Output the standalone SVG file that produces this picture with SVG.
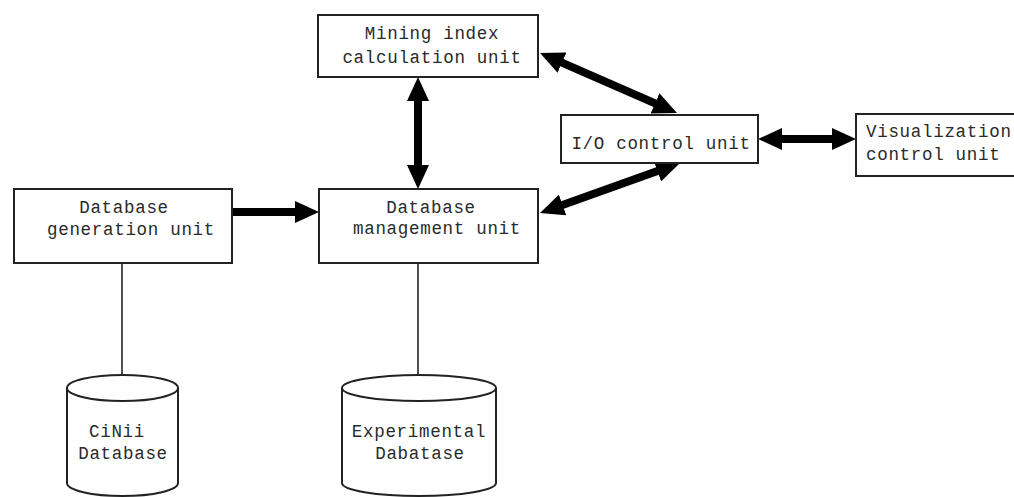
<svg xmlns="http://www.w3.org/2000/svg" width="1014" height="497" viewBox="0 0 1014 497">
<style>
.box{fill:#fff;stroke:#222;stroke-width:2}
.t{font-family:"Liberation Mono","Courier New",monospace;font-size:17.5px;letter-spacing:0.7px;fill:#2a2a2a;text-anchor:middle}
.ts{text-anchor:start}
.arr{stroke:#000;stroke-width:8;fill:none;marker-end:url(#head)}
.both{marker-start:url(#head)}
.thin{stroke:#222;stroke-width:1.6;fill:none}
.cyl{fill:#fff;stroke:#222;stroke-width:2}
</style>
<defs>
<marker id="head" viewBox="0 0 24 22" refX="12" refY="11" markerWidth="24" markerHeight="22" markerUnits="userSpaceOnUse" orient="auto-start-reverse">
<path d="M0,0 L24,11 L0,22 z" fill="#000"/>
</marker>
</defs>
<rect width="1014" height="497" fill="#fff"/>
<g id="connectors">
<line class="arr" x1="232" y1="212" x2="307" y2="212"/>
<line class="arr both" x1="418" y1="89" x2="418" y2="177"/>
<line class="arr both" x1="551" y1="57.8" x2="666" y2="108.2"/>
<line class="arr both" x1="551.3" y1="209" x2="668.7" y2="167"/>
<line class="arr both" x1="770" y1="139" x2="844" y2="139"/>
<line class="thin" x1="122" y1="263" x2="122" y2="375"/>
<line class="thin" x1="418" y1="263" x2="418" y2="375"/>
</g>
<g id="mining">
<rect class="box" x="318" y="15" width="220" height="62"/>
<text class="t" x="432" y="38.5">Mining index</text>
<text class="t" x="432" y="62.5">calculation unit</text>
</g>
<g id="io">
<rect class="box" x="561" y="115" width="197" height="48"/>
<text class="t" x="661" y="149">I/O control unit</text>
</g>
<g id="visualization">
<rect class="box" x="856" y="114" width="170" height="62"/>
<text class="t ts" x="866" y="137">Visualization</text>
<text class="t ts" x="866" y="160">control unit</text>
</g>
<g id="dbgen">
<rect class="box" x="14" y="189" width="218" height="74"/>
<text class="t" x="124" y="213">Database</text>
<text class="t" x="131" y="235">generation unit</text>
</g>
<g id="dbmgmt">
<rect class="box" x="319" y="189" width="219" height="74"/>
<text class="t" x="431" y="213">Database</text>
<text class="t" x="437" y="234">management unit</text>
</g>
<g id="cinii">
<path class="cyl" d="M67,388 L67,483 A55.5,13 0 0 0 178,483 L178,388"/>
<ellipse class="cyl" cx="122.5" cy="388" rx="55.5" ry="13"/>
<text class="t" x="117" y="437">CiNii</text>
<text class="t" x="123" y="459">Database</text>
</g>
<g id="experimental">
<path class="cyl" d="M342,388 L342,483 A77,13 0 0 0 496,483 L496,388"/>
<ellipse class="cyl" cx="419" cy="388" rx="77" ry="13"/>
<text class="t" x="419" y="437">Experimental</text>
<text class="t" x="420" y="459">Dabatase</text>
</g>
</svg>
